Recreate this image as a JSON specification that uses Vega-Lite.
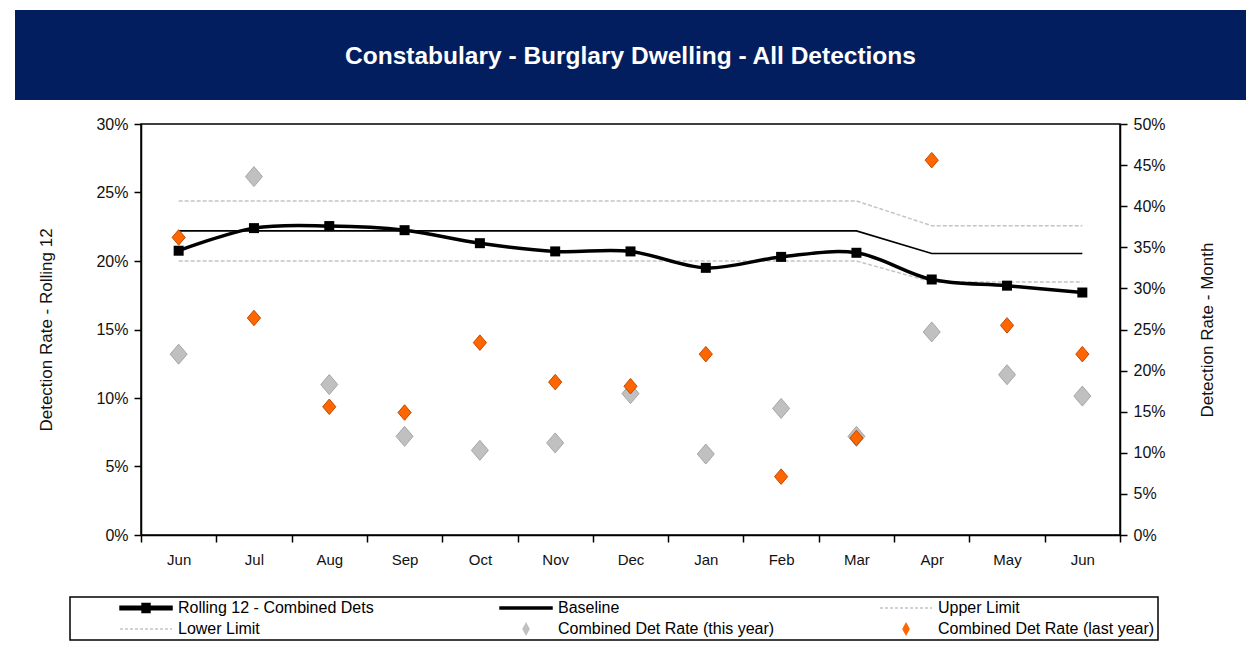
{
  "$schema": "https://vega.github.io/schema/vega-lite/v6.json",
  "padding": {"left": 15, "top": 10, "right": 0, "bottom": 0},
  "background": "white",
  "spacing": 24,
  "center": true,
  "bounds": "flush",
  "datasets": {
    "banner": [{"t": "Constabulary - Burglary Dwelling - All Detections"}],
    "d": [
      {"m": 0, "s": "Rolling 12 - Combined Dets", "v": 0.2075},
      {"m": 1, "s": "Rolling 12 - Combined Dets", "v": 0.224},
      {"m": 2, "s": "Rolling 12 - Combined Dets", "v": 0.2255},
      {"m": 3, "s": "Rolling 12 - Combined Dets", "v": 0.2225},
      {"m": 4, "s": "Rolling 12 - Combined Dets", "v": 0.213},
      {"m": 5, "s": "Rolling 12 - Combined Dets", "v": 0.207},
      {"m": 6, "s": "Rolling 12 - Combined Dets", "v": 0.207},
      {"m": 7, "s": "Rolling 12 - Combined Dets", "v": 0.195},
      {"m": 8, "s": "Rolling 12 - Combined Dets", "v": 0.203},
      {"m": 9, "s": "Rolling 12 - Combined Dets", "v": 0.206},
      {"m": 10, "s": "Rolling 12 - Combined Dets", "v": 0.1865},
      {"m": 11, "s": "Rolling 12 - Combined Dets", "v": 0.182},
      {"m": 12, "s": "Rolling 12 - Combined Dets", "v": 0.177},
      {"m": 0, "s": "Baseline", "v": 0.222},
      {"m": 1, "s": "Baseline", "v": 0.222},
      {"m": 2, "s": "Baseline", "v": 0.222},
      {"m": 3, "s": "Baseline", "v": 0.222},
      {"m": 4, "s": "Baseline", "v": 0.222},
      {"m": 5, "s": "Baseline", "v": 0.222},
      {"m": 6, "s": "Baseline", "v": 0.222},
      {"m": 7, "s": "Baseline", "v": 0.222},
      {"m": 8, "s": "Baseline", "v": 0.222},
      {"m": 9, "s": "Baseline", "v": 0.222},
      {"m": 10, "s": "Baseline", "v": 0.2055},
      {"m": 11, "s": "Baseline", "v": 0.2055},
      {"m": 12, "s": "Baseline", "v": 0.2055},
      {"m": 0, "s": "Upper Limit", "v": 0.2438},
      {"m": 1, "s": "Upper Limit", "v": 0.2438},
      {"m": 2, "s": "Upper Limit", "v": 0.2438},
      {"m": 3, "s": "Upper Limit", "v": 0.2438},
      {"m": 4, "s": "Upper Limit", "v": 0.2438},
      {"m": 5, "s": "Upper Limit", "v": 0.2438},
      {"m": 6, "s": "Upper Limit", "v": 0.2438},
      {"m": 7, "s": "Upper Limit", "v": 0.2438},
      {"m": 8, "s": "Upper Limit", "v": 0.2438},
      {"m": 9, "s": "Upper Limit", "v": 0.2438},
      {"m": 10, "s": "Upper Limit", "v": 0.2258},
      {"m": 11, "s": "Upper Limit", "v": 0.2258},
      {"m": 12, "s": "Upper Limit", "v": 0.2258},
      {"m": 0, "s": "Lower Limit", "v": 0.2},
      {"m": 1, "s": "Lower Limit", "v": 0.2},
      {"m": 2, "s": "Lower Limit", "v": 0.2},
      {"m": 3, "s": "Lower Limit", "v": 0.2},
      {"m": 4, "s": "Lower Limit", "v": 0.2},
      {"m": 5, "s": "Lower Limit", "v": 0.2},
      {"m": 6, "s": "Lower Limit", "v": 0.2},
      {"m": 7, "s": "Lower Limit", "v": 0.2},
      {"m": 8, "s": "Lower Limit", "v": 0.2},
      {"m": 9, "s": "Lower Limit", "v": 0.2},
      {"m": 10, "s": "Lower Limit", "v": 0.1847},
      {"m": 11, "s": "Lower Limit", "v": 0.1847},
      {"m": 12, "s": "Lower Limit", "v": 0.1847},
      {"m": 0, "s": "Combined Det Rate (this year)", "v": 0.22},
      {"m": 1, "s": "Combined Det Rate (this year)", "v": 0.436},
      {"m": 2, "s": "Combined Det Rate (this year)", "v": 0.183},
      {"m": 3, "s": "Combined Det Rate (this year)", "v": 0.12},
      {"m": 4, "s": "Combined Det Rate (this year)", "v": 0.103},
      {"m": 5, "s": "Combined Det Rate (this year)", "v": 0.112},
      {"m": 6, "s": "Combined Det Rate (this year)", "v": 0.172},
      {"m": 7, "s": "Combined Det Rate (this year)", "v": 0.0985},
      {"m": 8, "s": "Combined Det Rate (this year)", "v": 0.154},
      {"m": 9, "s": "Combined Det Rate (this year)", "v": 0.12},
      {"m": 10, "s": "Combined Det Rate (this year)", "v": 0.247},
      {"m": 11, "s": "Combined Det Rate (this year)", "v": 0.195},
      {"m": 12, "s": "Combined Det Rate (this year)", "v": 0.169},
      {"m": 0, "s": "Combined Det Rate (last year)", "v": 0.362},
      {"m": 1, "s": "Combined Det Rate (last year)", "v": 0.264},
      {"m": 2, "s": "Combined Det Rate (last year)", "v": 0.156},
      {"m": 3, "s": "Combined Det Rate (last year)", "v": 0.149},
      {"m": 4, "s": "Combined Det Rate (last year)", "v": 0.234},
      {"m": 5, "s": "Combined Det Rate (last year)", "v": 0.186},
      {"m": 6, "s": "Combined Det Rate (last year)", "v": 0.181},
      {"m": 7, "s": "Combined Det Rate (last year)", "v": 0.22},
      {"m": 8, "s": "Combined Det Rate (last year)", "v": 0.071},
      {"m": 9, "s": "Combined Det Rate (last year)", "v": 0.118},
      {"m": 10, "s": "Combined Det Rate (last year)", "v": 0.456},
      {"m": 11, "s": "Combined Det Rate (last year)", "v": 0.255},
      {"m": 12, "s": "Combined Det Rate (last year)", "v": 0.22}
    ]
  },
  "vconcat": [
    {
      "width": 1231,
      "height": 90,
      "view": {"fill": "#021E5E", "stroke": null},
      "data": {"name": "banner"},
      "mark": {"type": "text", "color": "white", "font": "Liberation Sans", "fontWeight": "bold", "fontSize": 24.5, "align": "center", "baseline": "middle", "dy": 2},
      "encoding": {"text": {"field": "t", "type": "nominal"}}
    },
    {
      "width": 979,
      "height": 411,
      "view": {"stroke": "black", "strokeWidth": 1.5},
      "data": {"name": "d"},
      "encoding": {
        "x": {
          "field": "m", "type": "ordinal", "bandPosition": 0.5,
          "scale": {"type": "band", "paddingInner": 0, "paddingOuter": 0},
          "axis": {
            "title": null, "labelAngle": 0, "tickBand": "extent", "tickSize": 7, "labelPadding": 10, "labelFontSize": 15,
            "labelExpr": "['Jun','Jul','Aug','Sep','Oct','Nov','Dec','Jan','Feb','Mar','Apr','May','Jun'][datum.value]"
          }
        },
        "color": {
          "field": "s", "type": "nominal",
          "scale": {
            "domain": ["Rolling 12 - Combined Dets", "Lower Limit", "Baseline", "Combined Det Rate (this year)", "Upper Limit", "Combined Det Rate (last year)"],
            "range": ["#000000", "#C4C4C4", "#000000", "#C0C0C0", "#C4C4C4", "#FF6600"]
          },
          "legend": {
            "title": null, "orient": "none", "legendX": 55, "legendY": 587,
            "columns": 3, "gridAlign": "all", "columnPadding": 58, "rowPadding": 5, "padding": 3,
            "clipHeight": 16, "symbolSize": 9801, "symbolStrokeWidth": 1.5, "symbolOpacity": 1,
            "labelOffset": 4, "labelFontSize": 16, "labelColor": "black", "labelLimit": 500,
            "strokeColor": "black",
            "encode": {
              "symbols": {
                "update": {
                  "shape": {"signal": "datum.value === 'Rolling 12 - Combined Dets' ? 'M-0.07,-0.035H0.98V0.035H-0.07Z M0.375,-0.09H0.535V0.09H0.375Z' : datum.value === 'Baseline' ? 'M-0.07,-0.02H0.98V0.02H-0.07Z' : indexof(datum.value, 'Limit') >= 0 ? 'M-0.07,0H0.98' : 'M0.455,-0.11L0.515,0L0.455,0.11L0.395,0Z'"},
                  "fill": {"signal": "datum.value === 'Rolling 12 - Combined Dets' || datum.value === 'Baseline' ? 'black' : indexof(datum.value, 'Limit') >= 0 ? 'transparent' : datum.value === 'Combined Det Rate (this year)' ? '#C0C0C0' : '#FF6600'"},
                  "stroke": {"signal": "datum.value === 'Rolling 12 - Combined Dets' || datum.value === 'Baseline' ? 'transparent' : indexof(datum.value, 'Limit') >= 0 ? '#BDBDBD' : datum.value === 'Combined Det Rate (this year)' ? '#A6A6A6' : '#D35400'"},
                  "strokeDash": {"signal": "indexof(datum.value, 'Limit') >= 0 ? [3, 2] : [1, 0]"},
                  "opacity": {"value": 1}
                }
              }
            }
          }
        }
      },
      "layer": [
        {
          "encoding": {
            "y": {
              "field": "v", "type": "quantitative",
              "scale": {"domain": [0, 0.3], "nice": false, "zero": true},
              "axis": {
                "title": "Detection Rate - Rolling 12", "format": ".0%",
                "values": [0, 0.05, 0.1, 0.15, 0.2, 0.25, 0.3],
                "tickSize": 7, "labelPadding": 6, "titlePadding": 40
              }
            }
          },
          "layer": [
            {
              "transform": [{"filter": {"field": "s", "equal": "Upper Limit"}}],
              "mark": {"type": "line", "strokeWidth": 1.5, "strokeDash": [4, 2]}
            },
            {
              "transform": [{"filter": {"field": "s", "equal": "Lower Limit"}}],
              "mark": {"type": "line", "strokeWidth": 1.5, "strokeDash": [4, 2]}
            },
            {
              "transform": [{"filter": {"field": "s", "equal": "Baseline"}}],
              "mark": {"type": "line", "strokeWidth": 1.6}
            },
            {
              "transform": [{"filter": {"field": "s", "equal": "Rolling 12 - Combined Dets"}}],
              "mark": {"type": "line", "strokeWidth": 3.5, "interpolate": "catmull-rom"}
            },
            {
              "transform": [{"filter": {"field": "s", "equal": "Rolling 12 - Combined Dets"}}],
              "mark": {"type": "point", "shape": "square", "size": 100, "filled": true, "opacity": 1}
            }
          ]
        },
        {
          "encoding": {
            "y": {
              "field": "v", "type": "quantitative",
              "scale": {"domain": [0, 0.5], "nice": false, "zero": true},
              "axis": {
                "orient": "right", "title": "Detection Rate - Month", "titleAngle": -90, "format": ".0%",
                "values": [0, 0.05, 0.1, 0.15, 0.2, 0.25, 0.3, 0.35, 0.4, 0.45, 0.5],
                "tickSize": 7, "labelPadding": 6, "titlePadding": 51
              }
            }
          },
          "layer": [
            {
              "transform": [{"filter": {"field": "s", "equal": "Combined Det Rate (this year)"}}],
              "mark": {"type": "point", "shape": "M0,-1L0.85,0L0,1L-0.85,0Z", "size": 400, "filled": true, "opacity": 1, "stroke": "#A6A6A6", "strokeWidth": 1}
            },
            {
              "transform": [{"filter": {"field": "s", "equal": "Combined Det Rate (last year)"}}],
              "mark": {"type": "point", "shape": "M0,-1L0.85,0L0,1L-0.85,0Z", "size": 240, "filled": true, "opacity": 1, "stroke": "#C04A00", "strokeWidth": 1}
            }
          ]
        }
      ],
      "resolve": {"scale": {"y": "independent"}}
    }
  ],
  "config": {
    "view": {"stroke": null},
    "font": "Liberation Sans",
    "axis": {
      "labelFont": "Liberation Sans", "titleFont": "Liberation Sans",
      "labelColor": "#111111", "titleColor": "#111111",
      "labelFontSize": 16, "titleFontSize": 17, "titleFontWeight": "normal",
      "domainColor": "black", "domainWidth": 1.5, "tickColor": "black", "tickWidth": 1.5, "grid": false
    },
    "legend": {"labelFont": "Liberation Sans", "strokeWidth": 1.5}
  }
}
